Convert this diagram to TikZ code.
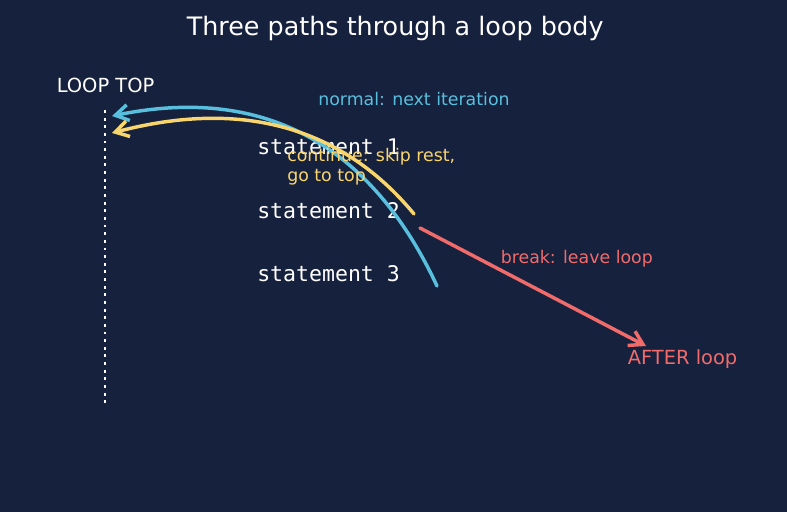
\documentclass[tikz,border=0pt]{standalone}
\usepackage{fontspec}
\setmainfont{DejaVu Sans}
\newfontfamily\codefont{DejaVu Sans Mono}
\usetikzlibrary{arrows.meta,calc}
\definecolor{bgc}{HTML}{16213E}
\definecolor{bluec}{RGB}{88,192,222}
\definecolor{yellowc}{RGB}{249,213,110}
\definecolor{redc}{RGB}{242,107,107}
\tikzset{
  lbl/.style={inner sep=0pt, anchor=base west},
  stmt/.style={lbl, text=white, font=\codefont\fontsize{15.5}{18}\selectfont},
  small/.style={lbl, font=\fontsize{12.5}{14.6}\selectfont},
  big/.style={lbl, font=\fontsize{14}{16.8}\selectfont},
  flow/.style={line width=2.5pt, line cap=round, -{Straight Barb[length=9.5pt,width=11.5pt,line width=2.5pt]}},
}
\begin{document}
\begin{tikzpicture}[x=0.72pt,y=-0.72pt]
\fill[bgc] (0,0) rectangle (787,512);
\useasboundingbox (0,0) rectangle (787,512);

\node[lbl, text=white, font=\fontsize{18.3}{22}\selectfont] (title) at (186.5,35.3) {Three paths through a loop body};
\node[big, text=white] (looptop) at (56.5,92.5) {LOOP TOP};

\coordinate (dtop) at (105,110);
\coordinate (dbot) at (105,405);
\draw[white, line width=2.1pt, dash pattern=on 2.1pt off 3.4pt] (dtop) -- (dbot);

\node[stmt] (s1) at (257,154.8) {statement 1};
\node[stmt] (s2) at (257,218.3) {statement 2};
\node[stmt] (s3) at (257,281.5) {statement 3};

% normal path
\coordinate (nA) at (437,286);
\coordinate (nB) at (112,116);
\draw[flow, bluec] (nA) .. controls (369.7,142) and (261.3,85.3) .. (nB);
% continue path
\coordinate (cA) at (414,214);
\coordinate (cB) at (112,133);
\draw[flow, yellowc] (cA) .. controls (341.3,126) and (240.7,99) .. (cB);
% break path
\coordinate (bA) at (420,228);
\coordinate (bB) at (646,346);
\draw[flow, redc] (bA) -- (bB);

\node[small, text=bluec] (nlabel) at (318,106) {normal: next iteration};
\node[small, text=yellowc, align=left] (clabel) at (287,181.5) {continue: skip rest,\\go to top};
\node[small, text=redc] (blabel) at (500.5,263.7) {break: leave loop};
\node[big, text=redc] (after) at (627.5,364.5) {AFTER loop};
\end{tikzpicture}
\end{document}
